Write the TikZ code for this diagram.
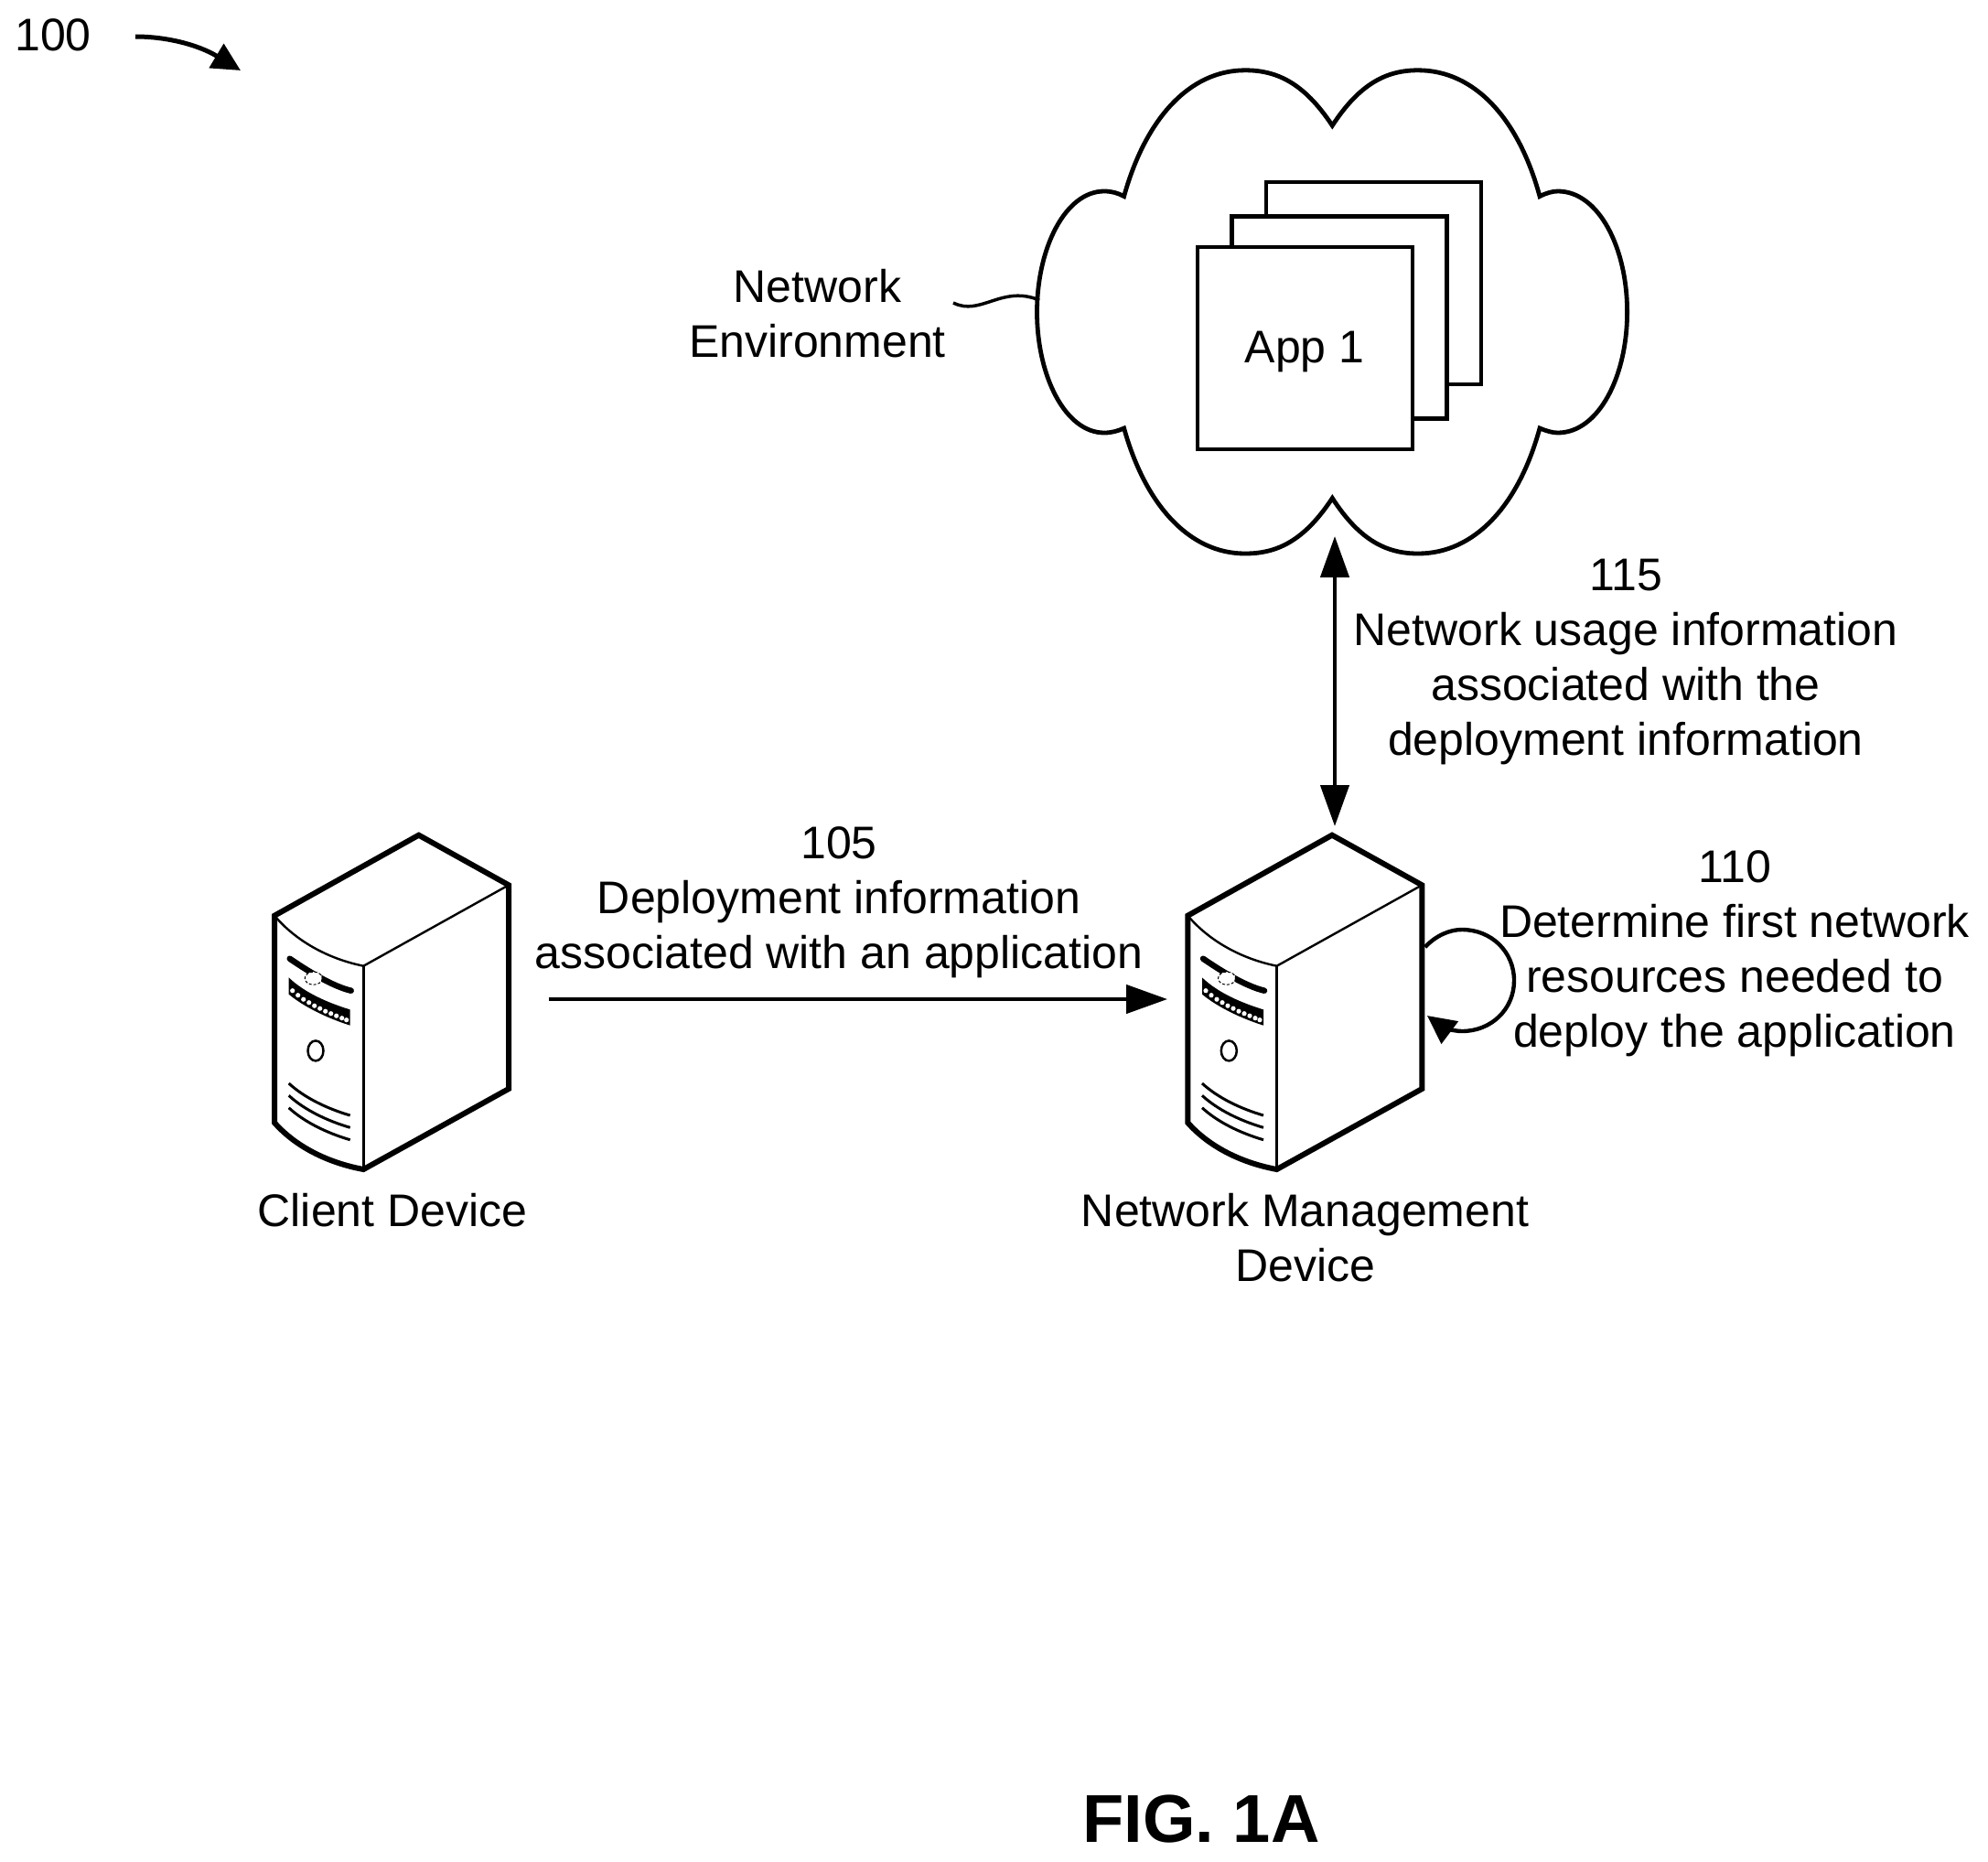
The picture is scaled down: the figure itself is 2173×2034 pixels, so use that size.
\documentclass[tikz,border=0pt]{standalone}
\usepackage{fontspec}
\setmainfont{Liberation Sans}
\usetikzlibrary{arrows.meta}
\tikzset{
  x=1pt,y=-1pt,
  txt/.style={font=\fontsize{50}{60}\selectfont,align=center,inner sep=0pt,outer sep=0pt,text=black},
  appbox/.style={draw=black,line width=4.6pt,fill=white,inner sep=0pt,outer sep=0pt,minimum width=235pt,minimum height=221pt},
  conn/.style={draw=black,line width=4.4pt,-{Triangle[length=45pt,width=31pt]}},
  conntwo/.style={draw=black,line width=4.4pt,{Triangle[length=45pt,width=31pt]}-{Triangle[length=45pt,width=31pt]}},
  thickedge/.style={draw=black,line width=6pt,line join=miter},
  thinedge/.style={draw=black,line width=2.4pt},
  serverbox/.pic={
    \draw[thickedge,fill=white] (0,0) -- (98.3,54.6) -- (98.3,277.3) -- (-60.4,365.3)
      .. controls (-100,358) and (-135,340) .. (-157.7,314.3) -- (-157.7,88) -- cycle;
    \draw[thinedge] (-157.7,88) .. controls (-135,115) and (-100,135) .. (-60.4,143) -- (98.3,54.6);
    \draw[thinedge] (-60.4,143) -- (-60.4,365.3);
    \draw[draw=black,line width=6.5pt,line cap=round] (-141,135) .. controls (-122,148) and (-95,165) .. (-74,170);
    \fill[white] (-115,156.5) ellipse (9.5 and 7);
    \draw[black,line width=1pt,densely dashed] (-115,156.5) ellipse (9.5 and 7);
    \fill[black] (-142,155.7) .. controls (-125,172) and (-100,183) .. (-75,190.7) -- (-75,208)
      .. controls (-100,200) and (-125,188) .. (-142,174) -- cycle;
    \foreach \dx/\dy in {-138/170,-132/175,-126/179.5,-120/183,-114/186.5,-108/189.5,-102/192.5,-96/195,-90/197.5,-84/200,-79/202}
      \fill[white] (\dx,\dy) circle (2.6);
    \draw[black,line width=2.5pt] (-112.7,235.7) ellipse (8.5 and 11);
    \foreach \dv in {0,13.3,26.7}
      \draw[black,line width=3pt] (-142,271.3+\dv) .. controls (-125,287+\dv) and (-100,299+\dv) .. (-75,306.3+\dv);
  }
}
\begin{document}
\begin{tikzpicture}
\useasboundingbox (0,0) rectangle (2173,2034);
\fill[white] (0,0) rectangle (2173,2034);

% reference number
\node[txt] (hundred) at (58,38) {100};
\coordinate (hundredstart) at (148,40);
\coordinate (hundredend) at (263,77);
\draw[draw=black,line width=5pt,-{Triangle[length=31pt,width=30pt]}] (hundredstart)
  .. controls (180,40) and (215,48) .. (hundredend);

% cloud
\draw[black,line width=4.8pt,fill=white,line join=miter] (1456.3,137.3)
  .. controls (1425,90) and (1395,76.8) .. (1361,76.8)
  .. controls (1300,76.8) and (1252,130) .. (1228.6,214.6)
  .. controls (1222,211) and (1215,209) .. (1207,209)
  .. controls (1165,209) and (1133.5,270) .. (1133.5,341)
  .. controls (1133.5,412) and (1165,473) .. (1207,473)
  .. controls (1215,473) and (1222,471) .. (1228.6,468)
  .. controls (1252,552) and (1300,605) .. (1361,605)
  .. controls (1395,605) and (1425,592) .. (1456.3,544.4)
  .. controls (1487,592) and (1517,605) .. (1550,605)
  .. controls (1612,605) and (1660,552) .. (1683,468)
  .. controls (1690,471) and (1697,473) .. (1702.7,473)
  .. controls (1747,473) and (1778.6,412) .. (1778.6,341)
  .. controls (1778.6,270) and (1747,209) .. (1702.7,209)
  .. controls (1697,209) and (1690,211) .. (1683,214.6)
  .. controls (1660,130) and (1612,76.8) .. (1550,76.8)
  .. controls (1517,76.8) and (1487,90) .. cycle;

% application stack
\node[appbox] (app3) at (1501.5,309.5) {};
\node[appbox] (app2) at (1464,347.2) {};
\node[appbox] (app1) at (1426.5,380.5) {};
\node[txt] (applabel) at (1426,384) {App 1};

% network environment label
\node[txt] (netenv) at (893.5,343) {Network\\Environment};
\coordinate (leaderstart) at (1042,331);
\coordinate (leaderend) at (1136,328);
\draw[black,line width=3.5pt] (leaderstart) .. controls (1072,346) and (1095,311) .. (leaderend);

% servers
\pic (client) at (457.7,912.7) {serverbox};
\pic (mgmt) at (1456,912.7) {serverbox};
\node[txt] (clientlabel) at (429,1323) {Client Device};
\node[txt] (mgmtlabel) at (1426.5,1353) {Network Management\\Device};

% arrow 105
\coordinate (clientport) at (600,1092);
\coordinate (mgmtport) at (1276,1092);
\draw[conn] (clientport) -- (mgmtport);
\node[txt] (label105) at (917,986) {105\\Deployment information\\associated with an application};

% arrow 115
\coordinate (cloudport) at (1459,586);
\coordinate (mgmttop) at (1459,903);
\draw[conntwo] (cloudport) -- (mgmttop);
\node[txt] (label115) at (1777,723) {115\\Network usage information\\associated with the\\deployment information};

% loop 110
\coordinate (loopstart) at (1557.7,1035);
\coordinate (loopend) at (1560,1110);
\draw[draw=black,line width=4.4pt,-{Triangle[length=31pt,width=30pt]}] (loopstart)
  .. controls (1570,1022) and (1585,1016) .. (1598,1016)
  .. controls (1630,1016) and (1655,1040) .. (1655,1071.7)
  .. controls (1655,1103) and (1630,1127) .. (1598,1127)
  .. controls (1588,1127) and (1576,1122) .. (loopend);
\node[txt] (label110) at (1896,1042) {110\\Determine first network\\resources needed to\\deploy the application};

% figure label
\node[inner sep=0pt,font=\fontsize{74}{80}\selectfont\bfseries] (fig) at (1313,1988) {FIG. 1A};
\end{tikzpicture}
\end{document}
